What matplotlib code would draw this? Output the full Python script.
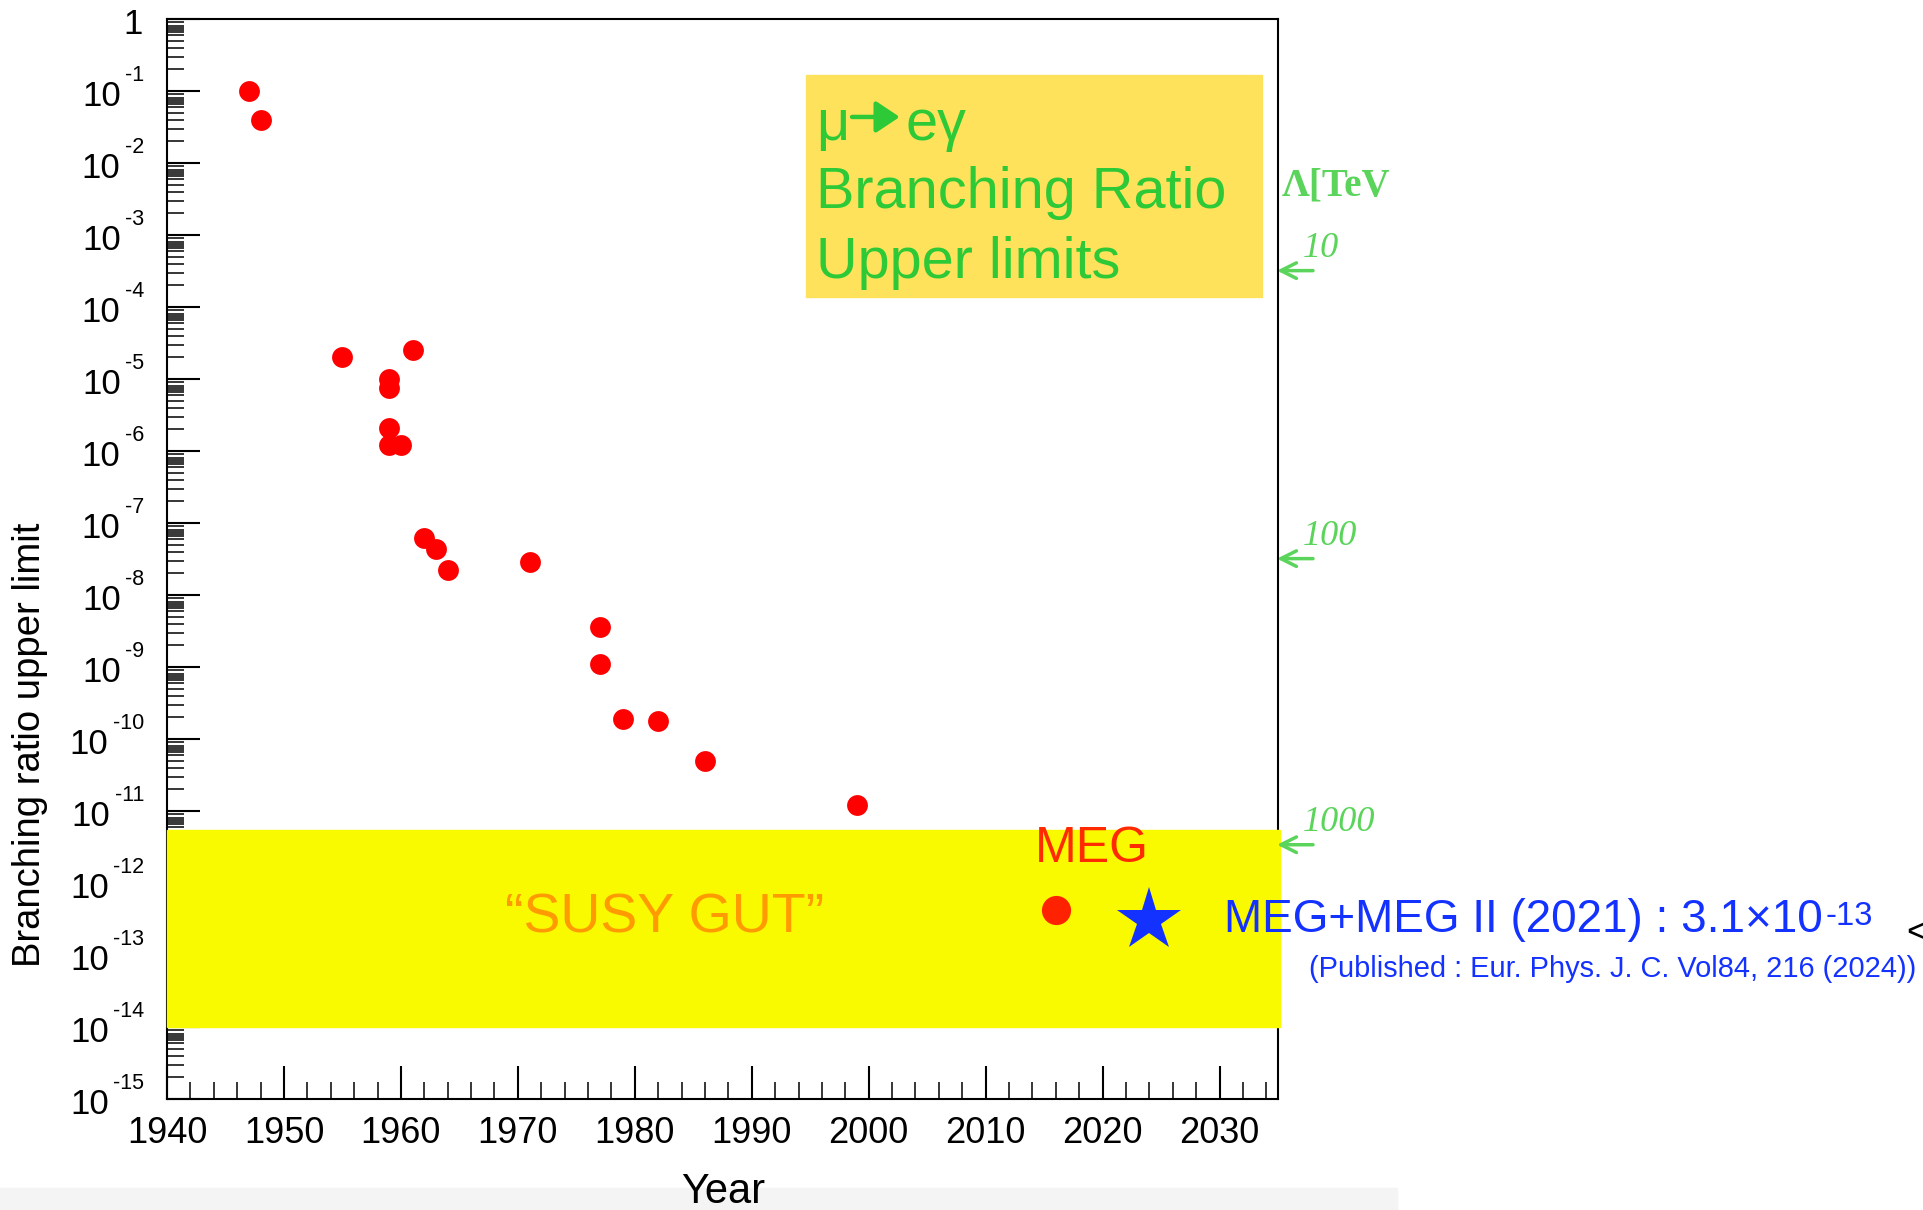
import numpy as np
import matplotlib

matplotlib.use("Agg")
import matplotlib.pyplot as plt
from matplotlib import ticker, transforms
from matplotlib.patches import Rectangle, ArrowStyle

# mu -> e gamma branching-ratio upper limits vs. year
YEARS = [1947, 1948, 1955, 1959, 1959, 1959, 1959, 1960, 1961, 1962, 1963, 1964,
         1971, 1977, 1977, 1979, 1982, 1986, 1999]
LIMITS = [1.0e-1, 4.0e-2, 2.0e-5, 1.0e-5, 7.4e-6, 2.1e-6, 1.2e-6, 1.2e-6, 2.5e-5,
          6.1e-8, 4.4e-8, 2.2e-8, 2.9e-8, 3.6e-9, 1.1e-9, 1.9e-10, 1.75e-10,
          4.9e-11, 1.2e-11]
MEG_YEAR, MEG_LIMIT = 2016, 4.2e-13
MEG2_YEAR, MEG2_LIMIT = 2024, 3.1e-13
SUSY_GUT = (1.0e-14, 5.5e-12)

# new-physics scale markers on the right edge
LAMBDA_TEV = ["10", "100", "1000"]
LAMBDA_BR = [3.2e-4, 3.2e-8, 3.4e-12]

GREEN = "#2dc937"
LGREEN = "#5ad45a"
BLUE = "#1432ff"

plt.rcParams["font.family"] = ["Liberation Sans", "DejaVu Sans"]

fig = plt.figure(figsize=(19.24, 12.10), dpi=100)
fig.add_artist(Rectangle((0, 0), 1397 / 1924, 22 / 1210, transform=fig.transFigure,
                         color="#f4f4f4", zorder=0))
ax = fig.add_axes([0.0868, 0.09174, 0.57744, 0.89256])

ax.set_yscale("log")
ax.set_xlim(1940, 2035)
ax.set_ylim(1e-15, 1)

decades = [10.0 ** -k for k in range(16)]
ax.yaxis.set_major_locator(ticker.FixedLocator(decades))
ax.yaxis.set_minor_locator(ticker.LogLocator(
    base=10, subs=[2, 3, 4, 5, 6, 6.5, 7, 7.5, 8, 9], numticks=300))
ax.yaxis.set_major_formatter(ticker.NullFormatter())
ax.yaxis.set_minor_formatter(ticker.NullFormatter())
ax.xaxis.set_major_locator(ticker.MultipleLocator(10))
ax.xaxis.set_minor_locator(ticker.MultipleLocator(2))

ax.tick_params(which="both", direction="in", top=False, right=False)
ax.tick_params(which="major", length=23.8, width=1.5)
ax.tick_params(which="minor", length=12, width=1.1)
ax.tick_params(axis="x", which="major", labelsize=26, pad=12)
for s in ax.spines.values():
    s.set_linewidth(1.5)

# ROOT-style "10" + raised exponent labels on the y axis
ylab_tr = transforms.blended_transform_factory(ax.transAxes, ax.transData)
for v in decades:
    e = int(round(np.log10(v)))
    if e == 0:
        ax.annotate("1", (0, v), xycoords=ylab_tr, xytext=(-17.3, -10.5),
                    textcoords="offset points", ha="right", va="baseline",
                    fontsize=25, annotation_clip=False)
        continue
    sup = ax.annotate("-%d" % -e, (0, v), xycoords=ylab_tr, xytext=(-16.6, 7.5),
                      textcoords="offset points", ha="right", va="baseline",
                      fontsize=15.5, annotation_clip=False)
    ax.annotate("10", (0, 0), xycoords=sup, xytext=(-3, -15),
                textcoords="offset points", ha="right", va="baseline",
                fontsize=25, annotation_clip=False)

# "SUSY GUT" expectation band, drawn over the frame
ax.axhspan(*SUSY_GUT, xmin=0, xmax=1.002, color="#f9f900", zorder=3, clip_on=False)
ax.text(0.4482, 0.1546, "\u201cSUSY GUT\u201d", transform=ax.transAxes, ha="center",
        va="baseline", fontsize=40, color="#ff9a00", zorder=5)

ax.plot(YEARS, LIMITS, "o", color="#ff0000", markersize=15, markeredgewidth=0, zorder=4)
ax.plot([MEG_YEAR], [MEG_LIMIT], "o", color="#ff2200", markersize=21,
        markeredgewidth=0, zorder=4)
ax.plot([MEG2_YEAR], [MEG2_LIMIT], "*", color=BLUE, markersize=48,
        markeredgewidth=0, zorder=4, clip_on=False)

ax.annotate("MEG", (MEG_YEAR, MEG_LIMIT), xytext=(26, 35), textcoords="offset points",
            ha="center", va="baseline", fontsize=36, color="#ff2a00", zorder=5)
meg2 = ax.annotate("MEG+MEG II (2021) : 3.1\u00d710", (MEG2_YEAR, MEG2_LIMIT),
                   xytext=(54, -9), textcoords="offset points", ha="left",
                   va="baseline", fontsize=33, color=BLUE, zorder=5,
                   annotation_clip=False)
ax.annotate("-13", (1, 1), xycoords=meg2, xytext=(1.5, -2),
            textcoords="offset points", ha="left", va="top",
            fontsize=23.5, color=BLUE, zorder=5, annotation_clip=False)
ax.annotate("(Published : Eur. Phys. J. C. Vol84, 216 (2024))",
            (MEG2_YEAR, MEG2_LIMIT), xytext=(115, -41), textcoords="offset points",
            ha="left", va="baseline", fontsize=20.9, color=BLUE, zorder=5,
            annotation_clip=False)

# title box
ax.add_patch(Rectangle((0.575, 0.7426), 0.4106, 0.2054, transform=ax.transAxes,
                       color="#ffe25c", zorder=3))
ax.text(0.584, 0.888, "\u03bc", transform=ax.transAxes, ha="left", va="baseline",
        fontsize=41.5, color=GREEN, zorder=5)
ax.annotate("", xy=(0.6595, 0.9093), xytext=(0.6166, 0.9093), xycoords="axes fraction",
            arrowprops=dict(arrowstyle=ArrowStyle("-|>", head_length=0.36, head_width=0.24),
                            mutation_scale=40, color=GREEN, lw=3.2,
                            shrinkA=0, shrinkB=0), zorder=5)
ax.text(0.6643, 0.888, "e\u03b3", transform=ax.transAxes, ha="left", va="baseline",
        fontsize=41.5, color=GREEN, zorder=5)
for txt, yb in [("Branching Ratio", 0.825), ("Upper limits", 0.760)]:
    ax.text(0.584, yb, txt, transform=ax.transAxes, ha="left", va="baseline",
            fontsize=41.5, color=GREEN, zorder=5)

# Lambda [TeV] scale on the right
ax.text(1.0036, 0.8457, "\u039b[TeV", transform=ax.transAxes, ha="left", va="center",
        fontsize=28, fontweight="bold", family="Liberation Serif", color=LGREEN)
for lab, br in zip(LAMBDA_TEV, LAMBDA_BR):
    ax.annotate("", xy=(0.9991, br), xytext=(1.0315, br), xycoords=ylab_tr,
                arrowprops=dict(arrowstyle="->", color=LGREEN, lw=2.5,
                                mutation_scale=28, shrinkA=0, shrinkB=0),
                annotation_clip=False, zorder=6)
    ax.annotate(lab, (1.0225, br), xycoords=ylab_tr, xytext=(0, 16),
                textcoords="offset points", ha="left", va="center", fontsize=26,
                style="italic", family="Liberation Serif", color=LGREEN,
                annotation_clip=False)

fig.text(30.5 / 1924, 1 - 745 / 1210, "Branching ratio upper limit", rotation=90,
         ha="center", va="center", fontsize=27.5)
fig.text(723 / 1924, 1 - 1203 / 1210, "Year", ha="center", va="baseline", fontsize=30)
fig.text(1906 / 1924, 1 - 933 / 1210, "<", ha="left", va="center", fontsize=26)

fig.savefig("out.png", dpi=100, facecolor="white")
